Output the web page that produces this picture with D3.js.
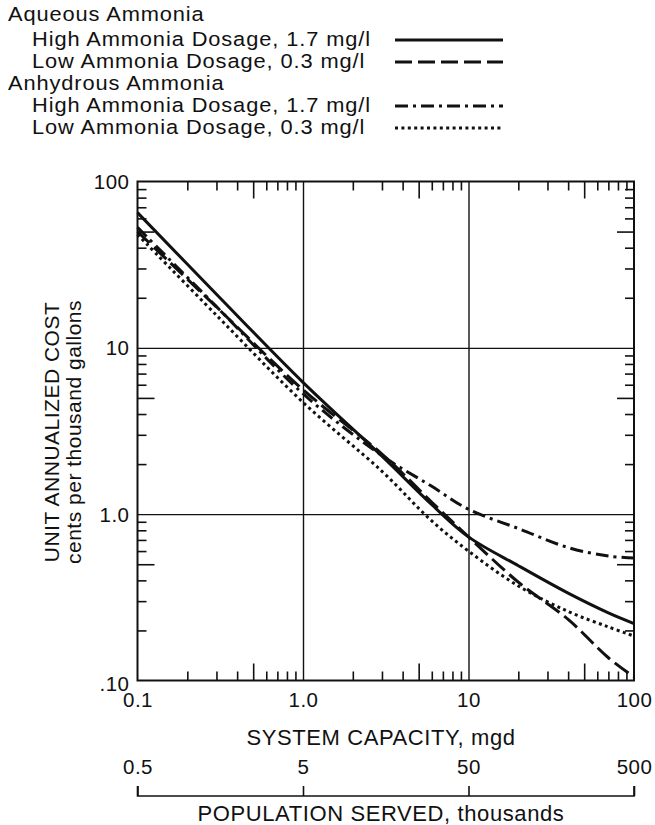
<!DOCTYPE html>
<html>
<head>
<meta charset="utf-8">
<script src="https://cdn.jsdelivr.net/npm/d3@7"></script>
<style>
  html, body { margin: 0; padding: 0; background: #fff; }
  svg text { font-family: "Liberation Sans", Arial, Helvetica, sans-serif; fill: #111; }
</style>
</head>
<body>
<svg id="chart" width="655" height="825"></svg>
<script>
// ---------------- data ----------------
const capacity = [0.1, 0.3, 1, 3, 6, 10, 20, 40, 70, 100];          // mgd
const aqueousHigh   = [65, 21, 6.2, 2.23, 1.14, 0.73, 0.49, 0.335, 0.255, 0.22];
const aqueousLow    = [50, 17.6, 5.6, 2.3, 1.18, 0.73, 0.39, 0.233, 0.137, 0.105];
const anhydrousHigh = [53, 17.7, 5.3, 2.25, 1.47, 1.07, 0.82, 0.63, 0.56, 0.545];
const anhydrousLow  = [48, 15.7, 4.7, 1.81, 0.91, 0.6, 0.37, 0.26, 0.21, 0.185];

const xTickValues = [0.1, 1, 10, 100];
const xTickLabels = ["0.1", "1.0", "10", "100"];
const yTickValues = [0.1, 1, 10, 100];
const yTickLabels = [".10", "1.0", "10", "100"];
const popTickValues = [0.5, 5, 50, 500];
const popTickLabels = ["0.5", "5", "50", "500"];

const legendGroups = ["Aqueous Ammonia", "Anhydrous Ammonia"];
const legendItems = [
  "High Ammonia Dosage, 1.7 mg/l",
  "Low Ammonia Dosage, 0.3 mg/l",
  "High Ammonia Dosage, 1.7 mg/l",
  "Low Ammonia Dosage, 0.3 mg/l"
];

const xTitle = "SYSTEM CAPACITY, mgd";
const popTitle = "POPULATION SERVED, thousands";
const yTitle1 = "UNIT ANNUALIZED COST";
const yTitle2 = "cents per thousand gallons";

// ---------------- layout ----------------
const L = 137.5, R = 634, T = 181.5, B = 680.5;
const svg = d3.select("#chart");

const x = d3.scaleLog().domain([0.1, 100]).range([L, R]);
const y = d3.scaleLog().domain([0.1, 100]).range([B, T]);
const xPop = d3.scaleLog().domain([0.5, 500]).range([L, R]);

const styles = [
  { dash: null },
  { dash: "17,6" },
  { dash: "13,5,3,5" },
  { dash: "3,3.4" }
];
const series = [aqueousHigh, aqueousLow, anhydrousHigh, anhydrousLow];

// minor tick values
const minor = [], fives = [];
[0.1, 1, 10].forEach(d => {
  [2, 3, 4, 6, 7, 8, 9].forEach(m => minor.push(+(d * m).toPrecision(3)));
  fives.push(+(d * 5).toPrecision(3));
});

function stripAxis(g) {
  g.select(".domain").remove();
  g.selectAll(".tick line").attr("stroke", "#111").attr("stroke-width", 1.6);
  g.selectAll("text").remove();
}

// grid lines at 1 and 10
svg.append("g").attr("transform", `translate(0,${B})`)
  .call(d3.axisBottom(x).tickValues([1, 10]).tickSize(-(B - T)).tickFormat(""))
  .call(g => { g.select(".domain").remove(); g.selectAll(".tick line").attr("stroke", "#111").attr("stroke-width", 1.4); });
svg.append("g").attr("transform", `translate(${L},0)`)
  .call(d3.axisLeft(y).tickValues([1, 10]).tickSize(-(R - L)).tickFormat(""))
  .call(g => { g.select(".domain").remove(); g.selectAll(".tick line").attr("stroke", "#111").attr("stroke-width", 1.4); });

// minor ticks, inward on all four sides
const tMinor = 9, tFive = 17;
svg.append("g").attr("transform", `translate(0,${B})`).call(d3.axisTop(x).tickValues(minor).tickSize(tMinor)).call(stripAxis);
svg.append("g").attr("transform", `translate(0,${B})`).call(d3.axisTop(x).tickValues(fives).tickSize(tFive)).call(stripAxis);
svg.append("g").attr("transform", `translate(0,${T})`).call(d3.axisBottom(x).tickValues(minor).tickSize(tMinor)).call(stripAxis);
svg.append("g").attr("transform", `translate(0,${T})`).call(d3.axisBottom(x).tickValues(fives).tickSize(tFive)).call(stripAxis);
svg.append("g").attr("transform", `translate(${L},0)`).call(d3.axisRight(y).tickValues(minor).tickSize(tMinor)).call(stripAxis);
svg.append("g").attr("transform", `translate(${L},0)`).call(d3.axisRight(y).tickValues(fives).tickSize(tFive)).call(stripAxis);
svg.append("g").attr("transform", `translate(${R},0)`).call(d3.axisLeft(y).tickValues(minor).tickSize(tMinor)).call(stripAxis);
svg.append("g").attr("transform", `translate(${R},0)`).call(d3.axisLeft(y).tickValues(fives).tickSize(tFive)).call(stripAxis);

// frame
svg.append("rect").attr("x", L).attr("y", T).attr("width", R - L).attr("height", B - T)
  .attr("fill", "none").attr("stroke", "#111").attr("stroke-width", 2);

// tick labels
const xl = svg.append("g").attr("transform", `translate(0,${B})`)
  .call(d3.axisBottom(x).tickValues(xTickValues).tickSize(0).tickPadding(0)
    .tickFormat((d, i) => xTickLabels[i]));
xl.select(".domain").remove();
xl.selectAll("text").attr("dy", null).attr("y", 26).attr("font-size", 20.5).style("letter-spacing", "0.5px");

const yl = svg.append("g").attr("transform", `translate(${L},0)`)
  .call(d3.axisLeft(y).tickValues(yTickValues).tickSize(0).tickPadding(8)
    .tickFormat((d, i) => yTickLabels[i]));
yl.select(".domain").remove();
yl.selectAll("text").attr("dy", null).attr("y", 7).attr("font-size", 20.5).style("letter-spacing", "0.5px");
yl.selectAll(".tick").filter(d => d === 0.1).select("text").attr("y", 10);

// curves
const line = d3.line()
  .x((d, i) => x(capacity[i]))
  .y(d => y(d))
  .curve(d3.curveCatmullRom.alpha(0.5));

series.forEach((s, k) => {
  svg.append("path").datum(s).attr("d", line)
    .attr("fill", "none").attr("stroke", "#111").attr("stroke-width", 3)
    .attr("stroke-dasharray", styles[k].dash);
});

// x axis title
svg.append("text").attr("x", 381).attr("y", 745).attr("text-anchor", "middle")
  .attr("font-size", 22).style("letter-spacing", "0.6px").text(xTitle);

// population axis
const popY = 796;
const pa = svg.append("g").attr("transform", `translate(0,${popY})`)
  .call(d3.axisTop(xPop).tickValues(popTickValues).tickSize(10).tickPadding(12)
    .tickFormat((d, i) => popTickLabels[i]));
pa.select(".domain").attr("stroke", "#111").attr("stroke-width", 1.6)
  .attr("d", `M${L},${-10}V0H${R}V${-10}`);
pa.selectAll(".tick line").attr("stroke", "#111").attr("stroke-width", 1.6);
pa.selectAll("text").attr("font-size", 20.5).style("letter-spacing", "0.5px");

svg.append("text").attr("x", 381).attr("y", 821).attr("text-anchor", "middle")
  .attr("font-size", 22).style("letter-spacing", "0.6px").text(popTitle);

// y axis title
const yt = svg.append("g").attr("transform", "translate(0,432) rotate(-90)");
yt.append("text").attr("x", 0).attr("y", 59).attr("text-anchor", "middle")
  .attr("font-size", 21).style("letter-spacing", "0.5px").text(yTitle1);
yt.append("text").attr("x", 0).attr("y", 81).attr("text-anchor", "middle")
  .attr("font-size", 21).style("letter-spacing", "0.5px").text(yTitle2);

// legend
const lg = svg.append("g");
const rowY = [21, 46, 68, 90, 112, 134];
const lgFont = 19.5, lgScale = 1.12;
function legendText(xp, yp, txt) {
  lg.append("text")
    .attr("transform", `translate(${xp},${yp}) scale(${lgScale},1)`)
    .attr("font-size", lgFont).style("letter-spacing", "0.8px").text(txt);
}
legendText(8, rowY[0], legendGroups[0]);
legendText(8, rowY[3], legendGroups[1]);
[1, 2, 4, 5].forEach((r, k) => {
  legendText(32, rowY[r], legendItems[k]);
  lg.append("line").attr("x1", 395).attr("x2", 503).attr("y1", rowY[r] - 6).attr("y2", rowY[r] - 6)
    .attr("stroke", "#111").attr("stroke-width", 3).attr("stroke-dasharray", styles[k].dash);
});
</script>
</body>
</html>
